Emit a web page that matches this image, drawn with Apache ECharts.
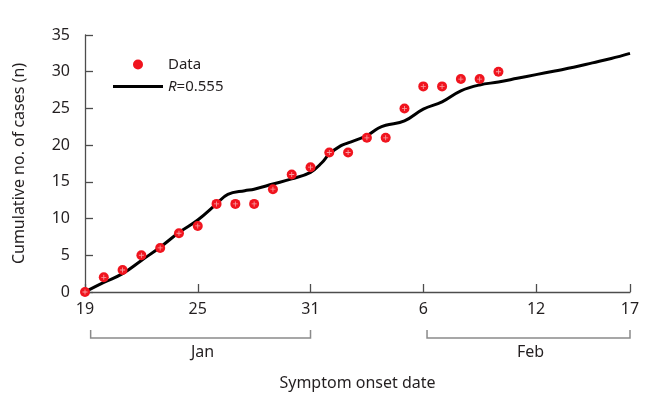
<!DOCTYPE html>
<html>
<head>
<meta charset="utf-8">
<script src="https://cdn.jsdelivr.net/npm/echarts@6/dist/echarts.min.js"></script>
<style>html,body{margin:0;padding:0;background:#fff}#c{width:666px;height:411px}</style>
</head>
<body>
<div id="c"></div>
<script>
// Day index 0 = Jan 19
const obsDays  = [0,1,2,3,4,5,6,7,8,9,10,11,12,13,14,15,16,17,18,19,20,21,22];
const obsCases = [0,2,3,5,6,8,9,12,12,12,14,16,17,19,19,21,21,25,28,28,29,29,30];
const fitDays   = [0,1,2,3,4,5,6,7,7.6,8.5,9,10,11,12,12.6,13,13.6,14,15,15.6,16,17,18,19,20,21,22,23,24,25,26,27,28,29];
const fitValues = [0,1.3,2.5,4.3,6.1,8.1,9.8,12.0,13.3,13.8,14.0,14.7,15.4,16.3,17.6,18.8,19.9,20.3,21.3,22.3,22.7,23.3,24.9,25.9,27.4,28.2,28.6,29.1,29.6,30.1,30.6,31.2,31.8,32.5];
const xTickValues = [0,6,12,18,24,29];
const xTickLabels = ['19','25','31','6','12','17'];
const yMin = 0, yMax = 35, yStep = 5;
const monthGroups = [
  {name:'Jan', from:0.3, to:12},
  {name:'Feb', from:18.2, to:29}
];
const fitName = 'R=0.555';

const FONT = 'Noto Sans';
const chart = echarts.init(document.getElementById('c'), null, {renderer:'canvas'});
const axisColor = '#4d4d4d';
const textColor = '#231f20';

chart.setOption({
  animation:false,
  textStyle:{fontFamily:FONT},
  grid:{left:85, right:36, top:35, bottom:119, containLabel:false},
  legend:[
    {data:[{name:'Data', icon:'circle'}], left:128, top:52, itemWidth:50, itemHeight:10,
     textStyle:{fontFamily:FONT, fontSize:15, color:textColor}},
    {data:[{name:fitName, icon:'rect'}], left:108, top:74, itemWidth:50, itemHeight:3,
     formatter:()=>'{i|R}=0.555',
     textStyle:{fontFamily:FONT, fontSize:15, color:textColor,
       rich:{i:{fontStyle:'italic', fontFamily:FONT, fontSize:15, color:textColor}}}}
  ],
  xAxis:{
    type:'value', min:0, max:29, interval:6,
    name:'Symptom onset date', nameLocation:'middle', nameGap:83,
    nameTextStyle:{fontFamily:FONT, fontSize:16, color:textColor},
    axisLine:{show:true, lineStyle:{color:axisColor, width:1.3}},
    axisTick:{show:true, inside:true, length:8, lineStyle:{color:axisColor, width:1.3}},
    axisLabel:{margin:9, fontFamily:FONT, fontSize:16, color:textColor, showMaxLabel:true, showMinLabel:true,
      formatter:v=>{const i=xTickValues.indexOf(v); return i>=0?xTickLabels[i]:'';}},
    splitLine:{show:false}
  },
  yAxis:{
    type:'value', min:yMin, max:yMax, interval:yStep,
    name:'Cumulative no. of cases (n)', nameLocation:'middle', nameGap:58,
    nameTextStyle:{fontFamily:FONT, fontSize:16, color:textColor},
    axisLine:{show:true, lineStyle:{color:axisColor, width:1.3}},
    axisTick:{show:true, inside:true, length:8, lineStyle:{color:axisColor, width:1.3}},
    axisLabel:{margin:15, fontFamily:FONT, fontSize:16, color:textColor},
    splitLine:{show:false}
  },
  series:[
    {name:fitName, type:'line', smooth:0.4, showSymbol:false, symbol:'none', z:2,
     data:fitDays.map((d,i)=>[d,fitValues[i]]),
     lineStyle:{color:'#000', width:3}, itemStyle:{color:'#000'}},
    {name:'Data', type:'scatter', symbol:'circle', symbolSize:10, z:3,
     data:obsDays.map((d,i)=>[d,obsCases[i]]),
     itemStyle:{color:'#f0141e', opacity:1}},
    {name:'plus', type:'scatter', silent:true, symbol:'path://M-0.5,-3h1v6h-1z M-3,-0.5h6v1h-6z', symbolSize:5, z:4,
     data:obsDays.map((d,i)=>[d,obsCases[i]]),
     itemStyle:{color:'rgba(255,255,255,0.75)'}}
  ]
});

// month brackets below the axis, positioned through the axis scale
const bracketY = 338, bracketH = 8;
const els = [];
monthGroups.forEach(g=>{
  const x1 = chart.convertToPixel({xAxisIndex:0}, g.from);
  const x2 = chart.convertToPixel({xAxisIndex:0}, g.to);
  els.push({type:'polyline', shape:{points:[[x1,bracketY-bracketH],[x1,bracketY],[x2,bracketY],[x2,bracketY-bracketH]]},
    style:{stroke:'#8a8a8a', lineWidth:1.5, fill:null}});
  els.push({type:'text', x:(x1+x2)/2 + 2, y:bracketY+14,
    style:{text:g.name, font:'16px "Noto Sans"', fill:textColor, align:'center', verticalAlign:'middle'}});
});
chart.setOption({graphic:els});
</script>
</body>
</html>
